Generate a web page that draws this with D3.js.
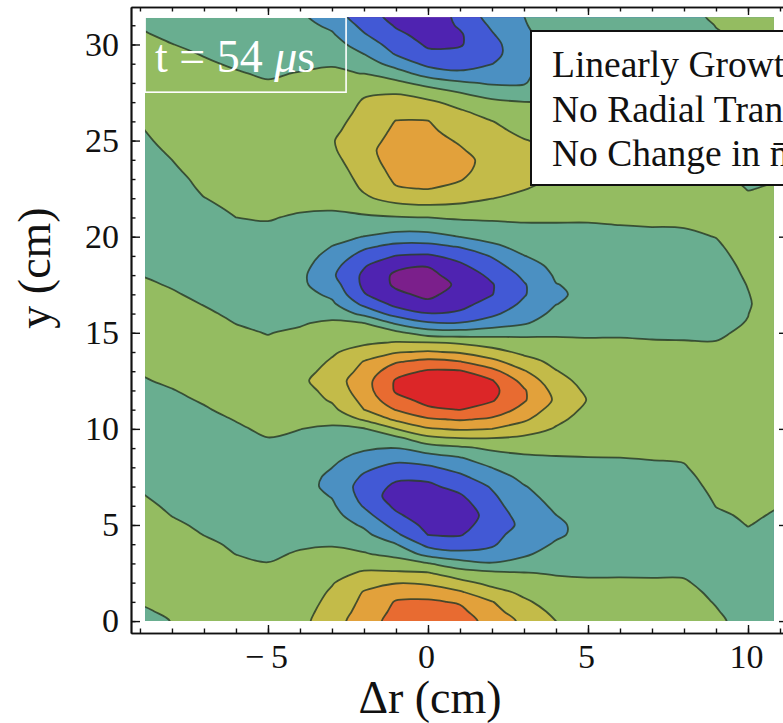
<!DOCTYPE html>
<html>
<head>
<meta charset="utf-8">
<script src="https://cdn.jsdelivr.net/npm/d3@7"></script>
<style>
  body { margin: 0; background: #fff; }
  svg { display: block; }
  text { font-family: "Liberation Serif", "Times New Roman", serif; fill: #111; }
</style>
</head>
<body>
<div id="chart"></div>
<script>
// Posiciones de la malla (cm)
const drValues = [-9, -8, -7, -6, -5, -4, -3, -2, -1, 0, 1, 2, 3, 4, 5, 6, 7, 8, 9, 10, 11];
const yValues = [0, 0.5, 1, 1.5, 2, 2.5, 3, 3.5, 4, 4.5, 5, 5.5, 6, 6.5, 7, 7.5,
  8, 8.5, 9, 9.5, 10, 10.5, 11, 11.5, 12, 12.5, 13, 13.5, 14, 14.5, 15, 15.5,
  16, 16.5, 17, 17.5, 18, 18.5, 19, 19.5, 20, 20.5, 21, 21.5, 22, 22.5, 23, 23.5,
  24, 24.5, 25, 25.5, 26, 26.5, 27, 27.5, 28, 28.5, 29, 29.5, 30, 30.5, 31, 31.5];

// Valores, una columna por cada dr (filas = yValues)
const fieldColumns = [
  /* -9 */ [-0.3,-0.09,0.05,0.13,0.21,0.3,0.38,0.47, 0.45,0.37,0.28,0.2,0.12,0.04,-0.05,-0.13, -0.21,-0.29,-0.38,-0.46,-0.46,-0.38,-0.29,-0.21, -0.13,-0.05,0.04,0.14,0.23,0.33,0.42,0.48, 0.38,0.29,0.19,0.09,-0.01,-0.06,-0.13,-0.19, -0.25,-0.31,-0.38,-0.44,-0.5,-0.44,-0.37,-0.31, -0.24,-0.18,-0.12,-0.05,0.02,0.12,0.22,0.32, 0.42,0.48,0.38,0.27,0.17,0.07,-0.06,-0.25],
  /* -8 */ [0.02,0.11,0.2,0.29,0.37,0.46,0.45,0.36, 0.26,0.17,0.08,-0.01,-0.08,-0.16,-0.23,-0.31, -0.38,-0.46,-0.47,-0.39,-0.32,-0.24,-0.17,-0.09, -0.02,0.08,0.17,0.27,0.37,0.46,0.44,0.34, 0.24,0.15,0.05,-0.04,-0.11,-0.19,-0.26,-0.34, -0.41,-0.49,-0.44,-0.37,-0.29,-0.22,-0.15,-0.07, 0,0.08,0.17,0.25,0.33,0.42,0.5,0.42, 0.34,0.25,0.17,0.09,0.01,-0.11,-0.23,-0.35],
  /* -7 */ [0.35,0.39,0.43,0.46,0.5,0.4,0.3,0.19, 0.09,-0.01,-0.08,-0.15,-0.22,-0.3,-0.37,-0.44, -0.49,-0.41,-0.34,-0.26,-0.19,-0.12,-0.04,0.04, 0.13,0.23,0.33,0.42,0.48,0.38,0.28,0.18, 0.08,-0.02,-0.11,-0.2,-0.28,-0.37,-0.46,-0.45, -0.36,-0.27,-0.18,-0.09,-0.01,0.07,0.13,0.2, 0.27,0.34,0.41,0.47,0.46,0.39,0.32,0.26, 0.19,0.12,0.05,-0.02,-0.13,-0.24,-0.34,-0.45],
  /* -6 */ [0.45,0.47,0.48,0.5,0.37,0.25,0.12,-0.01, -0.07,-0.14,-0.22,-0.29,-0.36,-0.43,-0.5,-0.43, -0.35,-0.28,-0.21,-0.13,-0.06,0.02,0.12,0.22, 0.32,0.42,0.48,0.38,0.28,0.19,0.09,-0.01, -0.1,-0.19,-0.28,-0.37,-0.46,-0.45,-0.36,-0.27, -0.18,-0.09,0,0.07,0.13,0.19,0.26,0.32, 0.39,0.45,0.49,0.42,0.36,0.29,0.23,0.16, 0.1,0.03,-0.05,-0.14,-0.23,-0.32,-0.41,-0.5],
  /* -5 */ [0.5,0.5,0.5,0.38,0.26,0.13,0.01,-0.07, -0.15,-0.22,-0.3,-0.38,-0.45,-0.47,-0.39,-0.32, -0.24,-0.16,-0.09,-0.01,0.08,0.18,0.27,0.37, 0.46,0.44,0.35,0.26,0.16,0.07,-0.02,-0.11, -0.19,-0.28,-0.36,-0.45,-0.47,-0.38,-0.3,-0.22, -0.13,-0.05,0.03,0.09,0.16,0.23,0.3,0.36, 0.43,0.5,0.43,0.36,0.3,0.23,0.16,0.09, 0.03,-0.05,-0.13,-0.22,-0.3,-0.38,-0.47,-0.55],
  /* -4 */ [0.7,0.61,0.51,0.42,0.32,0.23,0.13,0.04, -0.06,-0.16,-0.26,-0.36,-0.46,-0.56,-0.66,-0.62, -0.5,-0.37,-0.25,-0.12,0.01,0.17,0.32,0.48, 0.64,0.8,0.66,0.52,0.38,0.24,0.1,-0.06, -0.25,-0.44,-0.62,-0.81,-0.76,-0.64,-0.52,-0.4, -0.28,-0.17,-0.05,0.05,0.14,0.23,0.32,0.41, 0.49,0.58,0.54,0.47,0.39,0.32,0.24,0.17, 0.1,0.02,-0.1,-0.25,-0.4,-0.55,-0.7,-0.85],
  /* -3 */ [1.6,1.44,1.28,1.12,0.93,0.68,0.43,0.18, -0.06,-0.26,-0.45,-0.65,-0.85,-1.05,-1.23,-1.18, -0.99,-0.78,-0.56,-0.34,-0.13,0.22,0.75,1.11, 1.31,1.5,1.3,1.1,0.88,0.63,0.38,0.13, -0.27,-0.82,-1.21,-1.53,-1.84,-1.64,-1.33,-1.01, -0.72,-0.44,-0.15,0.06,0.2,0.33,0.47,0.6, 0.74,0.87,0.94,0.82,0.7,0.58,0.46,0.34, 0.22,0.1,-0.05,-0.33,-0.61,-0.89,-1.19,-1.5],
  /* -2 */ [2.5,2.35,2.21,2.06,1.67,1.13,0.6,0.07, -0.34,-0.73,-1.15,-1.66,-2.09,-2.34,-2.4,-2.14, -1.79,-1.32,-0.87,-0.48,-0.08,1.14,2.0,2.27, 2.54,2.59,2.31,2.04,1.41,0.84,0.43,0.02, -1.3,-2.24,-2.94,-3.2,-3.18,-2.91,-2.39,-1.8, -1.02,-0.58,-0.15,0.34,0.86,1.11,1.26,1.4, 1.55,1.7,1.58,1.46,1.34,1.21,1.09,0.89, 0.44,-0.02,-0.51,-1.0,-1.45,-1.91,-2.27,-2.6],
  /* -1 */ [3.4,3.23,3.07,2.61,1.94,1.14,0.42,-0.28, -0.97,-1.83,-2.37,-2.84,-3.2,-3.5,-3.2,-2.81, -2.28,-1.68,-1.0,-0.29,1.0,2.19,3.05,3.72, 4.11,4.1,3.64,2.9,1.91,1.04,0.24,-1.13, -2.41,-3.28,-3.79,-4.16,-4.18,-3.75,-3.03,-2.26, -1.37,-0.64,-0.06,0.67,1.33,1.93,2.15,2.32, 2.48,2.46,2.32,2.17,2.03,1.7,1.33,0.93, 0.24,-0.58,-1.39,-2.07,-2.43,-2.79,-3.09,-3.3],
  /*  0 */ [3.7,3.42,3.14,2.6,1.81,1.07,0.04,-1.36, -2.3,-3.02,-3.28,-3.54,-3.8,-3.5,-3.2,-2.78, -2.14,-1.43,-0.49,0.71,1.9,2.88,3.85,4.25, 4.54,4.38,4.11,3.29,2.1,1.0,-0.5,-1.89, -2.96,-3.77,-4.23,-4.54,-4.32,-3.94,-3.13,-2.28, -1.35,-0.61,0,0.79,1.47,2.03,2.21,2.39, 2.56,2.48,2.33,2.18,2.03,1.64,1.18,0.52, -0.38,-1.45,-2.26,-2.8,-3.13,-3.33,-3.54,-3.74],
  /*  1 */ [3.5,3.23,2.9,2.11,1.27,0.47,-0.59,-1.75, -2.51,-3.08,-3.38,-3.69,-3.47,-3.12,-2.68,-2.2, -1.65,-1.04,-0.18,0.95,2.13,3.1,4.02,4.31, 4.6,4.34,4.09,3.03,1.88,0.85,-0.6,-1.95, -2.87,-3.27,-3.59,-3.8,-3.49,-3.17,-2.67,-1.91, -0.98,-0.43,0.13,0.76,1.29,1.76,2.07,2.21, 2.24,2.09,1.9,1.64,1.38,1.13,0.67,0, -0.85,-1.85,-2.35,-2.76,-3.08,-3.11,-2.89,-2.7],
  /*  2 */ [2.6,2.32,2.04,1.35,0.72,0.19,-0.94,-1.73, -2.12,-2.3,-2.49,-2.53,-2.34,-2.15,-1.91,-1.44, -0.98,-0.43,0.16,0.97,2.0,2.86,3.58,4.09, 4.28,4.07,3.31,2.29,1.35,0.56,-0.4,-1.56, -2.2,-2.67,-3.03,-3.06,-2.82,-2.39,-1.92,-1.17, -0.68,-0.27,0.15,0.59,1.02,1.23,1.45,1.67, 1.73,1.55,1.37,1.2,1.02,0.62,0.2,-0.42, -1.13,-1.59,-2.02,-2.26,-2.31,-2.09,-1.85,-1.6],
  /*  3 */ [1.8,1.47,1.15,0.8,0.42,0.04,-0.7,-1.14, -1.36,-1.58,-1.8,-1.61,-1.42,-1.24,-1.05,-0.77, -0.46,-0.15,0.27,0.8,1.48,2.17,2.71,3.1, 3.1,2.69,2.08,1.38,0.78,0.33,-0.27,-1.1, -1.46,-1.82,-2.08,-2.08,-1.8,-1.41,-1.02,-0.72, -0.43,-0.14,0.16,0.47,0.79,1.04,1.16,1.28, 1.3,1.17,1.04,0.82,0.56,0.29,0.02,-0.65, -1.07,-1.21,-1.36,-1.45,-1.3,-1.15,-1.05,-1.0],
  /*  4 */ [1.0,0.79,0.58,0.38,0.17,-0.06,-0.35,-0.64, -0.92,-1.11,-1.15,-1.01,-0.85,-0.69,-0.53,-0.37, -0.21,-0.05,0.23,0.57,0.91,1.22,1.53,1.84, 1.65,1.35,1.04,0.75,0.47,0.18,-0.13,-0.49, -0.8,-1.02,-1.06,-1.03,-0.88,-0.75,-0.6,-0.43, -0.26,-0.09,0.11,0.32,0.53,0.74,0.96,1.09, 1.11,1.0,0.79,0.58,0.38,0.17,-0.03,-0.16, -0.3,-0.43,-0.57,-0.7,-0.68,-0.65,-0.63,-0.6],
  /*  5 */ [0.7,0.55,0.39,0.24,0.09,-0.08,-0.25,-0.42, -0.59,-0.77,-0.72,-0.62,-0.52,-0.42,-0.32,-0.22, -0.11,-0.01,0.14,0.3,0.46,0.63,0.79,0.95, 0.81,0.66,0.52,0.37,0.23,0.08,-0.09,-0.29, -0.49,-0.7,-0.9,-0.78,-0.66,-0.54,-0.42,-0.3, -0.18,-0.06,0.07,0.2,0.33,0.46,0.59,0.72, 0.74,0.61,0.47,0.33,0.19,0.06,-0.05,-0.14, -0.23,-0.32,-0.41,-0.5,-0.48,-0.45,-0.43,-0.4],
  /*  6 */ [0.55,0.43,0.31,0.19,0.07,-0.06,-0.2,-0.33, -0.47,-0.6,-0.53,-0.45,-0.38,-0.3,-0.23,-0.15, -0.08,0,0.12,0.23,0.35,0.47,0.58,0.7, 0.59,0.49,0.38,0.27,0.16,0.06,-0.06,-0.2, -0.34,-0.48,-0.62,-0.66,-0.55,-0.45,-0.34,-0.23, -0.13,-0.02,0.08,0.19,0.29,0.39,0.5,0.6, 0.5,0.39,0.29,0.19,0.08,-0.01,-0.09,-0.16, -0.23,-0.3,-0.38,-0.45,-0.43,-0.4,-0.38,-0.35],
  /*  7 */ [0.5,0.39,0.28,0.17,0.06,-0.06,-0.18,-0.3, -0.43,-0.55,-0.48,-0.41,-0.34,-0.27,-0.2,-0.13, -0.06,0.02,0.12,0.21,0.31,0.41,0.5,0.6, 0.51,0.41,0.32,0.22,0.13,0.03,-0.07,-0.17, -0.28,-0.39,-0.49,-0.6,-0.5,-0.4,-0.3,-0.2, -0.1,0,0.09,0.18,0.27,0.36,0.45,0.46, 0.37,0.28,0.19,0.09,0,-0.07,-0.13,-0.2, -0.27,-0.33,-0.4,-0.38,-0.36,-0.34,-0.32,-0.3],
  /*  8 */ [0.45,0.35,0.25,0.15,0.05,-0.06,-0.17,-0.28, -0.39,-0.5,-0.43,-0.37,-0.3,-0.23,-0.16,-0.1, -0.03,0.04,0.12,0.2,0.27,0.35,0.42,0.5, 0.42,0.34,0.26,0.18,0.1,0.02,-0.07,-0.15, -0.24,-0.33,-0.41,-0.5,-0.42,-0.33,-0.25,-0.16, -0.08,0.01,0.09,0.18,0.26,0.35,0.26,0.18, 0.09,-0.01,-0.05,-0.1,-0.15,-0.2,-0.25,-0.3, -0.35,-0.32,-0.29,-0.26,-0.24,-0.21,-0.18,-0.15],
  /*  9 */ [0.15,0.04,-0.04,-0.11,-0.18,-0.24,-0.31,-0.32, -0.26,-0.19,-0.13,-0.06,0.01,0.06,0.11,0.16, 0.21,0.26,0.32,0.37,0.42,0.43,0.38,0.32, 0.27,0.22,0.17,0.12,0.06,0.01,-0.05,-0.12, -0.18,-0.25,-0.31,-0.32,-0.26,-0.19,-0.13,-0.06, 0.01,0.08,0.16,0.23,0.19,0.12,0.05,-0.01, -0.05,-0.09,-0.14,-0.18,-0.22,-0.26,-0.3,-0.26, -0.22,-0.18,-0.15,-0.11,-0.07,-0.03,0.01,0.08],
  /* 10 */ [-0.3,-0.3,-0.3,-0.3,-0.3,-0.3,-0.24,-0.17, -0.11,-0.05,0.01,0.05,0.09,0.13,0.17,0.21, 0.24,0.28,0.32,0.36,0.4,0.37,0.33,0.3, 0.26,0.23,0.19,0.16,0.13,0.09,0.06,0.02, -0.01,-0.05,-0.02,0.02,0.07,0.11,0.16,0.2, 0.25,0.2,0.15,0.09,0.04,-0.01,-0.04,-0.08, -0.11,-0.15,-0.18,-0.22,-0.25,-0.22,-0.18,-0.15, -0.12,-0.09,-0.05,-0.02,0.02,0.06,0.11,0.15],
  /* 11 */ [-0.35,-0.34,-0.33,-0.33,-0.32,-0.31,-0.3,-0.25, -0.2,-0.14,-0.09,-0.04,0.01,0.04,0.07,0.1, 0.14,0.17,0.2,0.24,0.27,0.3,0.33,0.37, 0.4,0.4,0.39,0.39,0.38,0.38,0.38,0.37, 0.37,0.36,0.36,0.35,0.35,0.31,0.28,0.24, 0.21,0.17,0.14,0.1,0.07,0.03,-0.01,-0.04, -0.07,-0.1,-0.13,-0.17,-0.2,-0.17,-0.14,-0.11, -0.08,-0.05,-0.03,0.01,0.06,0.1,0.16,0.2]
];

// Niveles de contorno y colores de cada banda (de menor a mayor)
const levels = [-4, -3, -2, -1, 0, 1, 2, 3, 4];
const bandColors = ["#7b1f8b", "#4f23b1", "#4259d5", "#4b90c2", "#69ae90", "#94bc61",
                    "#c3bb49", "#e2a13b", "#e86b31", "#dc2628"];

// Marcas de los ejes
const xMajorTicks = [-5, 0, 5, 10];
const xMinorTicks = [-9, -8, -7, -6, -5, -4, -3, -2, -1, 0, 1, 2, 3, 4, 5, 6, 7, 8, 9, 10, 11];
const yMajorTicks = [0, 5, 10, 15, 20, 25, 30];
const yMinorTicks = [0, 1, 2, 3, 4, 5, 6, 7, 8, 9, 10, 11, 12, 13, 14, 15, 16, 17, 18, 19, 20,
                     21, 22, 23, 24, 25, 26, 27, 28, 29, 30, 31];

// Zona con datos
const drRange = [-8.84, 10.81];
const yRange = [0, 31.42];

const legendLines = ["Linearly Growth", "No Radial Transport", "No Change in n\u0304"];

const width = 783, height = 723;

const x = d3.scaleLinear().domain([-9.28, 11.25]).range([131, 788]);
const y = d3.scaleLinear().domain([-0.62, 31.95]).range([633, 7]);

const svg = d3.select("#chart")
  .append("svg")
  .attr("width", width)
  .attr("height", height);

svg.append("rect").attr("width", width).attr("height", height).attr("fill", "#fff");

svg.append("clipPath").attr("id", "plotClip")
  .append("rect")
  .attr("x", x(drRange[0]))
  .attr("y", y(yRange[1]))
  .attr("width", x(drRange[1]) - x(drRange[0]))
  .attr("height", y(yRange[0]) - y(yRange[1]));

// Malla para d3.contours, con una celda extra copiada en cada borde
const nx = drValues.length, ny = yValues.length;
const gw = nx + 2, gh = ny + 2;
const values = new Array(gw * gh);
for (let j = 0; j < gh; j++) {
  const jj = Math.min(ny - 1, Math.max(0, j - 1));
  for (let i = 0; i < gw; i++) {
    const ii = Math.min(nx - 1, Math.max(0, i - 1));
    values[j * gw + i] = fieldColumns[ii][jj];
  }
}

const contours = d3.contours().size([gw, gh]).thresholds(levels)(values);

// coordenadas de la malla -> datos
const gx = d3.scaleLinear().domain([1.5, nx + 0.5]).range([drValues[0], drValues[nx - 1]]);
const gy = d3.scaleLinear().domain([1.5, ny + 0.5]).range([yValues[0], yValues[ny - 1]]);

const ringLine = d3.line().curve(d3.curveCatmullRomClosed.alpha(0.5));
function contourPath(c) {
  return c.coordinates.map(poly =>
    poly.map(ring => ringLine(ring.slice(0, -1).map(p => [x(gx(p[0])), y(gy(p[1]))]))).join("")
  ).join("");
}

const plot = svg.append("g").attr("clip-path", "url(#plotClip)");

plot.append("rect")
  .attr("x", x(drRange[0])).attr("y", y(yRange[1]))
  .attr("width", x(drRange[1]) - x(drRange[0]))
  .attr("height", y(yRange[0]) - y(yRange[1]))
  .attr("fill", bandColors[0]);

plot.selectAll(".band")
  .data(contours)
  .enter().append("path")
  .attr("class", "band")
  .attr("fill-rule", "evenodd")
  .attr("fill", (d, i) => bandColors[i + 1])
  .attr("d", contourPath);

plot.selectAll(".iso")
  .data(contours)
  .enter().append("path")
  .attr("class", "iso")
  .attr("fill", "none")
  .attr("stroke", "#2c3d29")
  .attr("stroke-opacity", 0.85)
  .attr("stroke-width", 1.8)
  .attr("stroke-linejoin", "round")
  .attr("d", contourPath);

// Ejes (marco con marcas hacia dentro)
const fmt = d => d < 0 ? "\u2212\u2009" + Math.abs(d) : String(d);

function styleAxis(g) {
  g.attr("font-family", null).attr("font-size", null);
  g.selectAll(".domain").attr("stroke", "#111").attr("stroke-width", 1.7);
  g.selectAll(".tick line").attr("stroke", "#111").attr("stroke-width", 1.4);
  g.selectAll(".tick text").attr("font-size", 34).attr("fill", "#111");
}

const yBottom = y.range()[0], yTop = y.range()[1];
const xLeft = x.range()[0], xRight = x.range()[1];

svg.append("g").attr("transform", `translate(0,${yBottom})`)
  .call(d3.axisBottom(x).tickValues(xMinorTicks).tickSize(-4.5).tickSizeOuter(0).tickFormat(""))
  .call(styleAxis);
svg.append("g").attr("transform", `translate(0,${yBottom})`)
  .call(d3.axisBottom(x).tickValues(xMajorTicks).tickSize(-8).tickSizeOuter(0).tickPadding(11).tickFormat(fmt))
  .call(styleAxis)
  .selectAll(".tick text").attr("dx", -2);

svg.append("g").attr("transform", `translate(0,${yTop})`)
  .call(d3.axisTop(x).tickValues(xMinorTicks).tickSize(-4.5).tickSizeOuter(0).tickFormat(""))
  .call(styleAxis);
svg.append("g").attr("transform", `translate(0,${yTop})`)
  .call(d3.axisTop(x).tickValues(xMajorTicks).tickSize(-8).tickSizeOuter(0).tickFormat(""))
  .call(styleAxis);

svg.append("g").attr("transform", `translate(${xLeft},0)`)
  .call(d3.axisLeft(y).tickValues(yMinorTicks).tickSize(-4.5).tickSizeOuter(0).tickFormat(""))
  .call(styleAxis);
svg.append("g").attr("transform", `translate(${xLeft},0)`)
  .call(d3.axisLeft(y).tickValues(yMajorTicks).tickSize(-9).tickSizeOuter(0).tickPadding(12).tickFormat(fmt))
  .call(styleAxis);

svg.append("g").attr("transform", `translate(${xRight},0)`)
  .call(d3.axisRight(y).tickValues(yMinorTicks).tickSize(-4.5).tickSizeOuter(0).tickFormat(""))
  .call(styleAxis);
svg.append("g").attr("transform", `translate(${xRight},0)`)
  .call(d3.axisRight(y).tickValues(yMajorTicks).tickSize(-9).tickSizeOuter(0).tickFormat(""))
  .call(styleAxis);

// Etiquetas de ejes
svg.append("text")
  .attr("x", 430).attr("y", 713)
  .attr("text-anchor", "middle")
  .attr("font-size", 46)
  .text("\u0394r (cm)");

svg.append("text")
  .attr("transform", "translate(50,268) rotate(-90)")
  .attr("text-anchor", "middle")
  .attr("font-size", 46)
  .text("y (cm)");

// Caja de tiempo
svg.append("rect")
  .attr("x", x(drRange[0])).attr("y", y(yRange[1]))
  .attr("width", 201).attr("height", 75)
  .attr("fill", "none").attr("stroke", "#fff").attr("stroke-width", 1.6);

const tLabel = svg.append("text")
  .attr("x", 155).attr("y", 72)
  .attr("font-size", 46)
  .style("fill", "#fff");
tLabel.append("tspan").text("t = 54 ");
tLabel.append("tspan").attr("font-style", "italic").text("\u03bc");
tLabel.append("tspan").text("s");

// Leyenda (cortada por el borde)
svg.append("rect")
  .attr("x", 531).attr("y", 31)
  .attr("width", 300).attr("height", 154)
  .attr("fill", "#fff").attr("stroke", "#111").attr("stroke-width", 2);

svg.selectAll(".legend-line")
  .data(legendLines)
  .enter().append("text")
  .attr("class", "legend-line")
  .attr("x", 552)
  .attr("y", (d, i) => 77 + i * 44.5)
  .attr("font-size", 37.5)
  .text(d => d);
</script>
</body>
</html>
